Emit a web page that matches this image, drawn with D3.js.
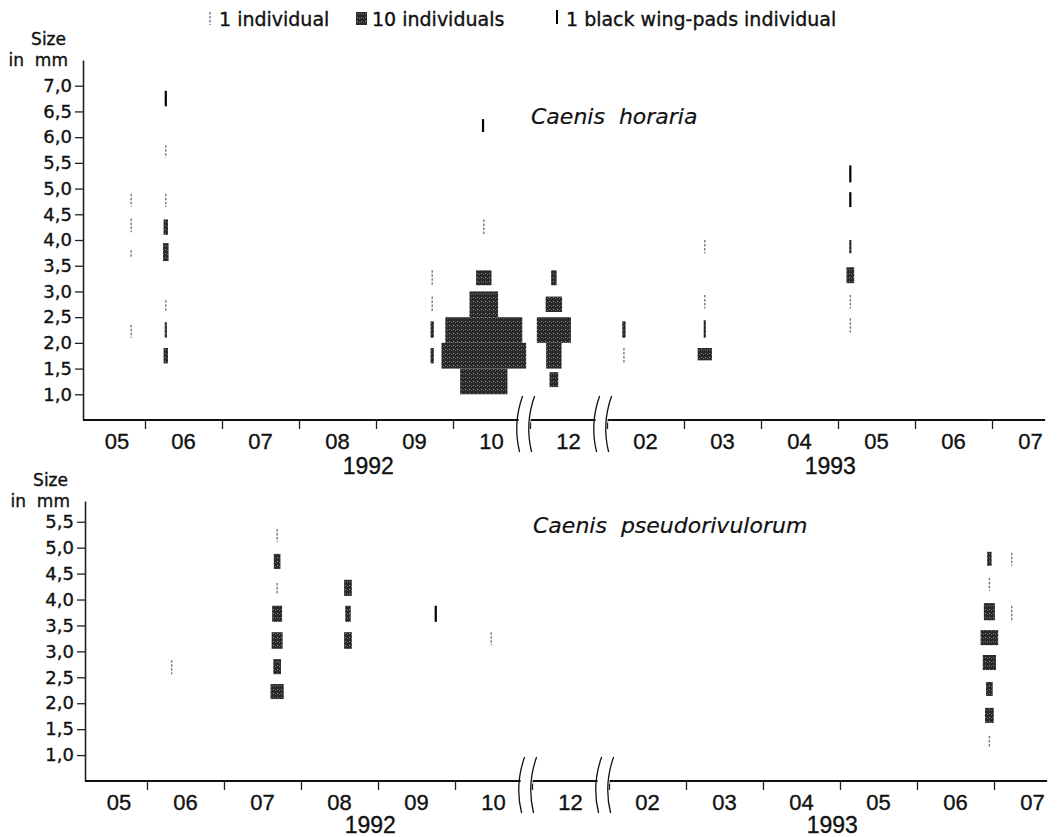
<!DOCTYPE html>
<html>
<head>
<meta charset="utf-8">
<script src="https://cdn.jsdelivr.net/npm/d3@7"></script>
<style>
  body { margin: 0; background: #fff; }
  text { font-family: "DejaVu Sans", sans-serif; fill: #111; stroke: #111; stroke-width: 0.35px; }
  .month, .year { font-family: "Liberation Sans", Arial, sans-serif; }
  .title { stroke-width: 0.2px; }
</style>
</head>
<body>
<svg id="chart" width="1059" height="837"></svg>
<script>
'use strict';

/* data: month slots run from May 1992 (0) to July 1993 (12), October and December only partly shown */
var monthLabels = ["05", "06", "07", "08", "09", "10", "12", "02", "03", "04", "05", "06", "07"];
var yearLabels = ["1992", "1993"];
var yearSlots = [3.9, 9.9];
var axisBreaks = [5.93, 6.93];

var sizeTicksHoraria = [1, 1.5, 2, 2.5, 3, 3.5, 4, 4.5, 5, 5.5, 6, 6.5, 7];
var sizeTicksPseudo = [1, 1.5, 2, 2.5, 3, 3.5, 4, 4.5, 5, 5.5];

// [month slot, size from, size to (mm), individuals]
var horaria = [
  [0.82, 4.65, 4.9, 1], [0.82, 4.15, 4.42, 1], [0.82, 3.65, 3.8, 1], [0.82, 2.1, 2.35, 1],
  [1.27, 5.6, 5.84, 1], [1.27, 4.64, 4.9, 1], [1.27, 4.1, 4.4, 4], [1.27, 3.59, 3.94, 5],
  [1.27, 2.6, 2.83, 1], [1.27, 2.1, 2.4, 2], [1.27, 1.6, 1.9, 4],
  [4.73, 3.12, 3.41, 1], [4.73, 2.6, 2.9, 1], [4.73, 2.1, 2.42, 3], [4.73, 1.6, 1.9, 3],
  [5.4, 4.1, 4.4, 1], [5.4, 3.12, 3.41, 14], [5.4, 2.5, 3.0, 26], [5.4, 2.0, 2.5, 70],
  [5.4, 1.5, 2.0, 77], [5.4, 1.0, 1.5, 43],
  [6.31, 3.12, 3.41, 5], [6.31, 2.6, 2.9, 15], [6.31, 2.0, 2.5, 31], [6.31, 1.5, 2.0, 14], [6.31, 1.14, 1.43, 8],
  [7.22, 2.1, 2.42, 3], [7.22, 1.62, 1.9, 1],
  [8.27, 3.74, 4.0, 1], [8.27, 2.67, 2.93, 1], [8.27, 2.1, 2.44, 2], [8.27, 1.66, 1.9, 13],
  [10.16, 3.74, 4.0, 2], [10.16, 3.16, 3.47, 7], [10.16, 2.67, 2.93, 1], [10.16, 2.2, 2.48, 1]
];
var horariaBlack = [
  [1.27, 6.6, 6.9], [5.39, 6.1, 6.35], [10.16, 5.12, 5.45], [10.16, 4.64, 4.93]
];

var pseudo = [
  [1.32, 2.56, 2.83, 1],
  [2.69, 5.11, 5.36, 1], [2.69, 4.59, 4.88, 6], [2.69, 4.09, 4.32, 1], [2.69, 3.57, 3.88, 9],
  [2.69, 3.05, 3.37, 10], [2.69, 2.56, 2.85, 7], [2.69, 2.08, 2.37, 12],
  [3.61, 4.07, 4.38, 7], [3.61, 3.57, 3.88, 5], [3.61, 3.05, 3.37, 7],
  [5.47, 3.12, 3.37, 1],
  [11.94, 4.65, 4.92, 4], [11.94, 4.17, 4.42, 1], [11.94, 3.6, 3.93, 10], [11.94, 3.12, 3.41, 16],
  [11.94, 2.64, 2.93, 12], [11.94, 2.14, 2.41, 6], [11.94, 1.62, 1.91, 8], [11.94, 1.14, 1.37, 1],
  [12.23, 4.65, 4.9, 1], [12.23, 3.6, 3.88, 1]
];
var pseudoBlack = [
  [4.75, 3.57, 3.88]
];

var svg = d3.select("#chart");

var defs = svg.append("defs");
var pat = defs.append("pattern").attr("id", "speckle")
  .attr("width", 4).attr("height", 4).attr("patternUnits", "userSpaceOnUse");
pat.append("rect").attr("width", 4).attr("height", 4).attr("fill", "#2a2a2a");
pat.append("rect").attr("x", 1).attr("y", 1).attr("width", 1).attr("height", 1).attr("fill", "#8a8a8a");
pat.append("rect").attr("x", 3).attr("y", 2).attr("width", 1).attr("height", 1).attr("fill", "#666");

var widthScale = d3.scaleLinear().domain([0, 10]).range([0, 11]);

function drawPanel(cfg) {
  var x = d3.scaleLinear().domain([0, 13]).range(cfg.xRange);
  var y = d3.scaleLinear().domain(cfg.yDomain).range(cfg.yRange);
  var axisY = y(cfg.yDomain[0]);
  var x0 = x(0.195), x1 = x(12.69);
  var g = svg.append("g");

  // y axis
  var ya = g.append("g").attr("transform", "translate(" + x0 + ",0)")
    .call(d3.axisLeft(y).tickValues(cfg.sizeTicks).tickSize(8).tickSizeOuter(0).tickPadding(3)
      .tickFormat(function(d) { return d.toFixed(1).replace(".", ","); }));
  ya.select(".domain").attr("stroke", "#222").attr("stroke-width", 1.6);
  ya.selectAll(".tick line").attr("stroke", "#222").attr("stroke-width", 1.3);
  ya.selectAll(".tick text").attr("font-size", 18).attr("font-family", "DejaVu Sans").attr("fill", "#111");

  var top = y(cfg.yDomain[1]);
  g.append("text").attr("x", x0 - 17).attr("y", top - 15)
    .attr("text-anchor", "end").attr("font-size", 17).text("Size");
  g.append("text").attr("x", x0 - 15).attr("y", top + 6)
    .attr("text-anchor", "end").attr("font-size", 17).style("white-space", "pre").text("in  mm");

  // x axis
  g.append("line").attr("x1", x0).attr("x2", x1).attr("y1", axisY).attr("y2", axisY)
    .attr("stroke", "#111").attr("stroke-width", 2);
  var xa = g.append("g").attr("transform", "translate(0," + axisY + ")")
    .call(d3.axisBottom(x).tickValues(d3.range(1, 13)).tickSize(9).tickFormat(""));
  xa.select(".domain").remove();
  xa.selectAll(".tick line").attr("stroke", "#222").attr("stroke-width", 1.3);

  g.selectAll(".month").data(monthLabels).enter().append("text")
    .attr("class", "month")
    .attr("x", function(d, i) { return i === 0 ? (x0 + x(1)) / 2 + 3 : x(i + 0.5); })
    .attr("y", axisY + 29)
    .attr("text-anchor", "middle").attr("font-size", 22)
    .text(function(d) { return d; });

  g.selectAll(".year").data(yearLabels).enter().append("text")
    .attr("class", "year")
    .attr("x", function(d, i) { return x(yearSlots[i]); })
    .attr("y", axisY + cfg.yearDy)
    .attr("text-anchor", "middle").attr("font-size", 23)
    .text(function(d) { return d; });

  // axis breaks
  var br = g.selectAll(".brk").data(axisBreaks).enter().append("g")
    .attr("transform", function(d) { return "translate(" + x(d) + "," + axisY + ")"; });
  br.append("rect").attr("x", -6).attr("y", -3).attr("width", 12).attr("height", 6).attr("fill", "#fff");
  [-6, 6].forEach(function(dx) {
    br.append("path")
      .attr("d", "M" + (dx + 4) + ",-24 C" + (dx - 1) + ",-10 " + (dx - 5) + ",8 " + (dx + 1) + ",32")
      .attr("fill", "none").attr("stroke", "#111").attr("stroke-width", 1.3);
  });

  // title
  g.append("text").attr("class", "title").attr("x", cfg.titleX).attr("y", cfg.titleY)
    .attr("font-size", 22).attr("font-style", "italic").style("white-space", "pre")
    .text(cfg.title);

  // single individuals: thin dotted strokes
  var singles = cfg.data.filter(function(d) { return d[3] === 1; });
  g.selectAll(".single").data(singles).enter().append("line")
    .attr("x1", function(d) { return x(d[0]); }).attr("x2", function(d) { return x(d[0]); })
    .attr("y1", function(d) { return y(d[2]); }).attr("y2", function(d) { return y(d[1]); })
    .attr("stroke", "#777").attr("stroke-width", 1.4).attr("stroke-dasharray", "2.5 1.5");

  // groups of individuals: width proportional to count
  var blocks = cfg.data.filter(function(d) { return d[3] > 1; });
  g.selectAll(".block").data(blocks).enter().append("rect")
    .attr("x", function(d) { return x(d[0]) - widthScale(d[3]) / 2; })
    .attr("width", function(d) { return widthScale(d[3]); })
    .attr("y", function(d) { return y(d[2]); })
    .attr("height", function(d) { return y(d[1]) - y(d[2]); })
    .attr("fill", "url(#speckle)");

  // black wing-pads individuals
  g.selectAll(".black").data(cfg.black).enter().append("line")
    .attr("x1", function(d) { return x(d[0]); }).attr("x2", function(d) { return x(d[0]); })
    .attr("y1", function(d) { return y(d[2]); }).attr("y2", function(d) { return y(d[1]); })
    .attr("stroke", "#000").attr("stroke-width", 2.2);
}

drawPanel({
  xRange: [68, 1069], yDomain: [0.5, 7.5], yRange: [420, 60],
  sizeTicks: sizeTicksHoraria, data: horaria, black: horariaBlack,
  title: "Caenis  horaria", titleX: 531, titleY: 124, yearDy: 54
});
drawPanel({
  xRange: [70, 1071], yDomain: [0.5, 5.9], yRange: [781, 501],
  sizeTicks: sizeTicksPseudo, data: pseudo, black: pseudoBlack,
  title: "Caenis  pseudorivulorum", titleX: 533, titleY: 533, yearDy: 52
});

// legend
var lg = svg.append("g");
lg.append("line").attr("x1", 210).attr("x2", 210).attr("y1", 12).attr("y2", 25)
  .attr("stroke", "#777").attr("stroke-width", 1.4).attr("stroke-dasharray", "2.5 1.5");
lg.append("text").attr("x", 219).attr("y", 26).attr("font-size", 19).text("1 individual");
lg.append("rect").attr("x", 356).attr("y", 12).attr("width", widthScale(10)).attr("height", 13)
  .attr("fill", "url(#speckle)");
lg.append("text").attr("x", 372).attr("y", 26).attr("font-size", 19).text("10 individuals");
lg.append("line").attr("x1", 557).attr("x2", 557).attr("y1", 10).attr("y2", 24)
  .attr("stroke", "#000").attr("stroke-width", 2);
lg.append("text").attr("x", 566).attr("y", 26).attr("font-size", 19).text("1 black wing-pads individual");
</script>
</body>
</html>
